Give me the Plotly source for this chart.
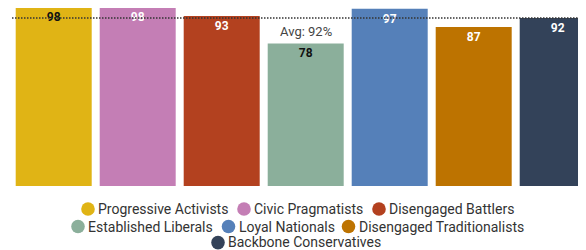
import plotly.graph_objects as go

# ---- data ----
categories = ["Progressive Activists", "Civic Pragmatists", "Disengaged Battlers",
              "Established Liberals", "Loyal Nationals", "Disengaged Traditionalists",
              "Backbone Conservatives"]
values = [98, 98, 93, 78, 97, 87, 92]
average = 92
colors = ["#E0B415", "#C47EB5", "#B3411F", "#8BAF9B", "#5580B9", "#BD7300", "#334259"]
label_colors = ["#111111", "#ffffff", "#ffffff", "#111111", "#ffffff", "#ffffff", "#ffffff"]

# ---- layout geometry ----
# the page body has an 8px margin, so the figure sits at (8, 8) in the window
OX, OY = 8, 8
WIN_W, WIN_H = 586, 250
W, H = WIN_W - OX, WIN_H - OY
PLOT_BOTTOM = 186 - OY          # plot-area bottom, in figure pixels
FONT = "Roboto"

# legend item placement (circle centre x, circle y, text start x, text y), in window pixels
legend_pos = [(88, 209, 96.5, 209), (244, 209, 252.5, 209), (379, 209, 387.5, 209),
              (78, 226.5, 86.5, 226.5), (228.5, 226.5, 238, 226.5), (348.5, 226.5, 358, 226.5),
              (218, 242.6, 226.5, 241.8)]

PX_PER_CAT = 84
first_center = 53.7 - OX
x0 = -first_center / PX_PER_CAT

fig = go.Figure(go.Bar(
    x=categories, y=values,
    marker=dict(color=colors, line=dict(width=0)),
    text=[str(v) for v in values],
    textposition="inside", insidetextanchor="end",
    textfont=dict(family=FONT, size=12, color=label_colors, weight="bold"),
    showlegend=False, hoverinfo="skip",
))

shapes = [dict(type="line", xref="paper", x0=(12 - OX) / W, x1=1, yref="y",
               y0=average, y1=average, layer="above",
               line=dict(color="#333333", width=1.5, dash="1.5px,1.5px"))]
annotations = [dict(x=categories[3], y=average, xref="x", yref="y",
                    text=f"Avg: {average}%", showarrow=False,
                    yanchor="top", yshift=-4,
                    font=dict(family=FONT, size=13, color="#444444"))]


def px2paper(px, py):
    return (px - OX) / W, (PLOT_BOTTOM - (py - OY)) / PLOT_BOTTOM


for name, col, (cx, cy, tx, ty) in zip(categories, colors, legend_pos):
    xp, yp = px2paper(cx, cy)
    shapes.append(dict(type="circle", xref="paper", yref="paper",
                       xsizemode="pixel", ysizemode="pixel",
                       xanchor=xp, yanchor=yp, x0=-6.8, x1=6.8, y0=-6.8, y1=6.8,
                       fillcolor=col, line=dict(width=0)))
    txp, typ = px2paper(tx, ty)
    annotations.append(dict(x=txp, y=typ, xref="paper", yref="paper",
                            text=name, showarrow=False, xanchor="left",
                            yanchor="middle", borderpad=0,
                            font=dict(family=FONT, size=14, color="#333333")))

# y scale: 1.827 px per unit from baseline (window y=186)
y_top = PLOT_BOTTOM / 1.827

fig.update_layout(
    width=W, height=H,
    margin=dict(l=0, r=0, t=0, b=H - PLOT_BOTTOM),
    paper_bgcolor="white", plot_bgcolor="white",
    bargap=8 / PX_PER_CAT,
    xaxis=dict(visible=False, range=[x0, x0 + W / PX_PER_CAT]),
    yaxis=dict(visible=False, range=[0, y_top]),
    shapes=shapes, annotations=annotations,
    showlegend=False,
)

fig.write_html("out.html")
